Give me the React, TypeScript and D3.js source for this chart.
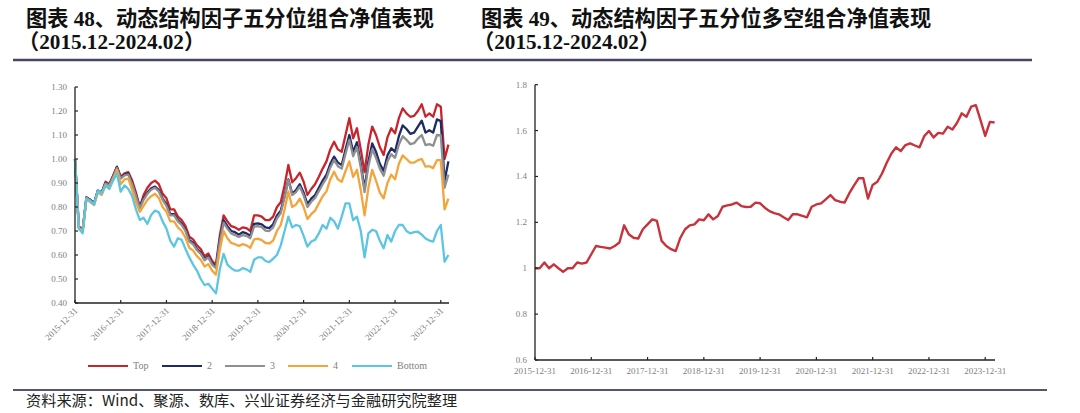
import React from 'react';
import * as d3 from 'd3';

// ---------- data ----------
const xTickLabels = ['2015-12-31', '2016-12-31', '2017-12-31', '2018-12-31', '2019-12-31', '2020-12-31', '2021-12-31', '2022-12-31', '2023-12-31'];
const xTickIndex = [0, 12, 24, 36, 48, 60, 72, 84, 96];

const seriesNames = ['Top', '2', '3', '4', 'Bottom'];
const seriesColors = ['#c8242c', '#1f2b68', '#8f8f8f', '#f3a53c', '#5cc6e2'];

const topValues = [
  1.000, 0.720, 0.705, 0.840, 0.830, 0.815, 0.870, 0.860, 0.905, 0.895,
  0.930, 0.968, 0.926, 0.940, 0.945, 0.910, 0.860, 0.800, 0.850, 0.880,
  0.900, 0.910, 0.895, 0.855, 0.836, 0.790, 0.790, 0.760, 0.745, 0.720,
  0.676, 0.665, 0.640, 0.625, 0.595, 0.606, 0.575, 0.560, 0.680, 0.765,
  0.740, 0.720, 0.715, 0.705, 0.715, 0.712, 0.700, 0.765, 0.765, 0.760,
  0.745, 0.745, 0.760, 0.800, 0.820, 0.890, 0.975, 0.903, 0.920, 0.943,
  0.905, 0.850, 0.875, 0.895, 0.926, 0.960, 0.990, 1.040, 1.072, 1.040,
  1.030, 1.100, 1.170, 1.086, 1.128, 1.040, 0.945, 1.060, 1.135, 1.100,
  1.050, 1.017, 1.090, 1.128, 1.107, 1.170, 1.211, 1.190, 1.176, 1.180,
  1.200, 1.228, 1.176, 1.190, 1.176, 1.228, 1.218, 1.000, 1.060,
];
const q2Values = [
  1.000, 0.715, 0.700, 0.840, 0.830, 0.815, 0.868, 0.860, 0.900, 0.893,
  0.928, 0.966, 0.922, 0.935, 0.940, 0.900, 0.850, 0.800, 0.835, 0.860,
  0.878, 0.885, 0.870, 0.835, 0.812, 0.770, 0.770, 0.745, 0.730, 0.705,
  0.662, 0.650, 0.625, 0.610, 0.582, 0.595, 0.565, 0.550, 0.665, 0.745,
  0.720, 0.700, 0.695, 0.685, 0.695, 0.690, 0.680, 0.730, 0.732, 0.728,
  0.715, 0.712, 0.728, 0.765, 0.785, 0.845, 0.915, 0.855, 0.870, 0.895,
  0.860, 0.812, 0.835, 0.850, 0.880, 0.910, 0.935, 0.980, 1.010, 0.985,
  0.975, 1.040, 1.100, 1.030, 1.070, 0.980, 0.875, 0.990, 1.065, 1.030,
  0.980, 0.950, 1.015, 1.045, 1.030, 1.095, 1.140, 1.125, 1.105, 1.110,
  1.135, 1.160, 1.110, 1.120, 1.110, 1.165, 1.158, 0.910, 0.990,
];
const q3Values = [
  1.000, 0.715, 0.700, 0.838, 0.828, 0.812, 0.865, 0.858, 0.898, 0.890,
  0.925, 0.962, 0.918, 0.932, 0.935, 0.895, 0.845, 0.795, 0.830, 0.855,
  0.872, 0.880, 0.865, 0.830, 0.805, 0.765, 0.765, 0.740, 0.725, 0.700,
  0.656, 0.645, 0.620, 0.605, 0.578, 0.590, 0.560, 0.545, 0.655, 0.735,
  0.710, 0.690, 0.683, 0.675, 0.683, 0.680, 0.670, 0.718, 0.720, 0.716,
  0.702, 0.700, 0.715, 0.752, 0.775, 0.840, 0.912, 0.850, 0.862, 0.885,
  0.848, 0.800, 0.822, 0.838, 0.866, 0.895, 0.920, 0.965, 0.996, 0.970,
  0.960, 1.022, 1.080, 1.012, 1.050, 0.965, 0.862, 0.970, 1.040, 1.005,
  0.960, 0.930, 0.990, 1.020, 1.005, 1.060, 1.095, 1.080, 1.062, 1.066,
  1.085, 1.100, 1.058, 1.062, 1.055, 1.100, 1.098, 0.880, 0.935,
];
const q4Values = [
  1.000, 0.712, 0.698, 0.835, 0.820, 0.808, 0.860, 0.850, 0.890, 0.880,
  0.915, 0.955, 0.895, 0.915, 0.918, 0.870, 0.820, 0.780, 0.805, 0.830,
  0.845, 0.855, 0.838, 0.800, 0.780, 0.740, 0.740, 0.715, 0.700, 0.672,
  0.630, 0.618, 0.595, 0.580, 0.552, 0.562, 0.535, 0.518, 0.620, 0.700,
  0.670, 0.650, 0.645, 0.638, 0.645, 0.640, 0.630, 0.665, 0.668, 0.662,
  0.650, 0.648, 0.660, 0.700, 0.725, 0.790, 0.865, 0.800, 0.810, 0.835,
  0.800, 0.750, 0.770, 0.785, 0.815, 0.845, 0.865, 0.915, 0.947, 0.915,
  0.905, 0.950, 0.990, 0.925, 0.955, 0.870, 0.765, 0.880, 0.955, 0.910,
  0.860, 0.836, 0.900, 0.935, 0.915, 0.980, 1.015, 1.000, 0.985, 0.985,
  0.995, 1.000, 0.968, 0.970, 0.962, 0.995, 0.995, 0.790, 0.835,
];
const bottomValues = [
  1.000, 0.710, 0.690, 0.835, 0.825, 0.810, 0.870, 0.855, 0.890, 0.875,
  0.910, 0.940, 0.864, 0.890, 0.875, 0.845, 0.790, 0.746, 0.755, 0.730,
  0.767, 0.785, 0.778, 0.740, 0.710, 0.660, 0.635, 0.670, 0.663, 0.625,
  0.590, 0.560, 0.535, 0.500, 0.475, 0.480, 0.460, 0.440, 0.540, 0.605,
  0.560, 0.545, 0.535, 0.535, 0.545, 0.540, 0.530, 0.580, 0.590, 0.590,
  0.575, 0.570, 0.585, 0.600, 0.640, 0.700, 0.760, 0.715, 0.725, 0.720,
  0.680, 0.635, 0.656, 0.663, 0.690, 0.725, 0.710, 0.755, 0.740, 0.710,
  0.760, 0.815, 0.815, 0.745, 0.760, 0.700, 0.590, 0.690, 0.705, 0.700,
  0.660, 0.628, 0.683, 0.656, 0.700, 0.725, 0.725, 0.700, 0.690, 0.695,
  0.697, 0.685, 0.669, 0.660, 0.656, 0.700, 0.725, 0.572, 0.600,
];
const longShortValues = [
  1.000, 1.000, 1.025, 1.000, 1.017, 1.000, 0.984, 1.000, 1.000, 1.025,
  1.020, 1.025, 1.061, 1.097, 1.093, 1.090, 1.086, 1.097, 1.112, 1.187,
  1.148, 1.133, 1.129, 1.170, 1.191, 1.213, 1.206, 1.119, 1.097, 1.083,
  1.075, 1.133, 1.170, 1.187, 1.191, 1.213, 1.209, 1.235, 1.213, 1.228,
  1.268, 1.274, 1.278, 1.286, 1.271, 1.267, 1.268, 1.286, 1.283, 1.264,
  1.249, 1.240, 1.235, 1.222, 1.210, 1.236, 1.235, 1.228, 1.222, 1.268,
  1.278, 1.283, 1.300, 1.319, 1.297, 1.290, 1.286, 1.326, 1.360, 1.392,
  1.392, 1.304, 1.363, 1.377, 1.413, 1.460, 1.500, 1.527, 1.511, 1.537,
  1.544, 1.535, 1.527, 1.576, 1.598, 1.570, 1.590, 1.587, 1.617, 1.605,
  1.634, 1.675, 1.660, 1.704, 1.711, 1.646, 1.577, 1.638, 1.635,
];

const leftYTicks = [0.4, 0.5, 0.6, 0.7, 0.8, 0.9, 1.0, 1.1, 1.2, 1.3];
const rightYTicks = [0.6, 0.8, 1.0, 1.2, 1.4, 1.6, 1.8];

const title1a = '图表 48、动态结构因子五分位组合净值表现';
const title1b = '（2015.12-2024.02）';
const title2a = '图表 49、动态结构因子五分位多空组合净值表现';
const title2b = '（2015.12-2024.02）';
const sourceText = '资料来源：Wind、聚源、数库、兴业证券经济与金融研究院整理';

// ---------- styles ----------
const TITLE_FONT = '"Liberation Serif", "Noto Sans CJK SC", serif';
const AXIS_FONT = '"Liberation Serif", "Times New Roman", serif';
const AXIS_COLOR = '#808080';

export default function App() {
  const allSeries = [topValues, q2Values, q3Values, q4Values, bottomValues];
  const lastIdx = topValues.length - 1;

  // left chart scales
  const xL = d3.scaleLinear().domain([0, lastIdx]).range([75, 448.4]);
  const yL = d3.scaleLinear().domain([0.4, 1.3]).range([303, 87]);
  const lineL = d3.line<number>().x((_, i) => xL(i)).y((d) => yL(d));

  // right chart scales
  const xR = d3.scaleLinear().domain([0, lastIdx]).range([535, 994.6]);
  const yR = d3.scaleLinear().domain([0.6, 1.8]).range([360, 84.7]);
  const lineR = d3.line<number>().x((_, i) => xR(i)).y((d) => yR(d));

  const legendX = [88, 162, 225, 288, 352];

  return (
    <svg width={1080} height={413} style={{ position: 'absolute', left: 0, top: 0, background: '#fff' }}>
      <rect x={0} y={0} width={1080} height={413} fill="#fff" />

      {/* titles */}
      <g fontFamily={TITLE_FONT} fontWeight="bold" fontSize={21.2} fill="#111">
        <text x={26} y={26}>{title1a}</text>
        <text x={18} y={49}>{title1b}</text>
        <text x={481} y={26}>{title2a}</text>
        <text x={473} y={49}>{title2b}</text>
      </g>
      <line x1={13} x2={1032} y1={60} y2={60} stroke="#45466a" strokeWidth={2.5} />

      {/* ---------- left chart ---------- */}
      <g>
        {allSeries.map((s, k) => (
          <path key={k} d={lineL(s) || ''} fill="none" stroke={seriesColors[k]} strokeWidth={2.3} strokeLinejoin="round" />
        ))}
        <line x1={75} x2={75} y1={87} y2={303} stroke="#222" strokeWidth={1.3} />
        <line x1={75} x2={449} y1={303} y2={303} stroke="#222" strokeWidth={1.3} />
        {leftYTicks.map((t) => (
          <g key={t}>
            <line x1={75} x2={78} y1={yL(t)} y2={yL(t)} stroke="#222" strokeWidth={1.2} />
            <text x={67} y={yL(t)} dy="0.33em" textAnchor="end" fontFamily={AXIS_FONT} fontSize={9} fill={AXIS_COLOR}>
              {d3.format('.2f')(t)}
            </text>
          </g>
        ))}
        {xTickIndex.map((ti, k) => (
          <g key={ti}>
            <line x1={xL(ti)} x2={xL(ti)} y1={303} y2={300} stroke="#222" strokeWidth={1.2} />
            <text
              transform={`translate(${xL(ti) + 1},${309}) rotate(-45)`}
              textAnchor="end"
              dy="0.35em"
              fontFamily={AXIS_FONT}
              fontSize={9}
              fill={AXIS_COLOR}
            >
              {xTickLabels[k]}
            </text>
          </g>
        ))}
        {seriesNames.map((n, k) => (
          <g key={n}>
            <line x1={legendX[k]} x2={legendX[k] + 40} y1={366} y2={366} stroke={seriesColors[k]} strokeWidth={2} />
            <text x={legendX[k] + 45} y={366} dy="0.33em" fontFamily={AXIS_FONT} fontSize={10} fill={AXIS_COLOR}>
              {n}
            </text>
          </g>
        ))}
      </g>

      {/* ---------- right chart ---------- */}
      <g>
        <path d={lineR(longShortValues) || ''} fill="none" stroke="#c8323a" strokeWidth={2.4} strokeLinejoin="round" />
        <line x1={535} x2={535} y1={84.7} y2={360} stroke="#222" strokeWidth={1.3} />
        <line x1={535} x2={995} y1={360} y2={360} stroke="#222" strokeWidth={1.3} />
        {rightYTicks.map((t) => (
          <g key={t}>
            <line x1={535} x2={538} y1={yR(t)} y2={yR(t)} stroke="#222" strokeWidth={1.2} />
            <text x={527} y={yR(t)} dy="0.33em" textAnchor="end" fontFamily={AXIS_FONT} fontSize={9} fill={AXIS_COLOR}>
              {d3.format('~g')(t)}
            </text>
          </g>
        ))}
        {xTickIndex.map((ti, k) => (
          <g key={ti}>
            <line x1={xR(ti)} x2={xR(ti)} y1={360} y2={357} stroke="#222" strokeWidth={1.2} />
            <text x={xR(ti)} y={373.5} textAnchor="middle" fontFamily={AXIS_FONT} fontSize={9} fill={AXIS_COLOR}>
              {xTickLabels[k]}
            </text>
          </g>
        ))}
      </g>

      {/* footer */}
      <line x1={13} x2={1047} y1={390} y2={390} stroke="#55566e" strokeWidth={2} />
      <text x={26} y={406} fontFamily='"Noto Sans CJK SC", serif' fontSize={15.2} fill="#222">
        {sourceText}
      </text>
    </svg>
  );
}
